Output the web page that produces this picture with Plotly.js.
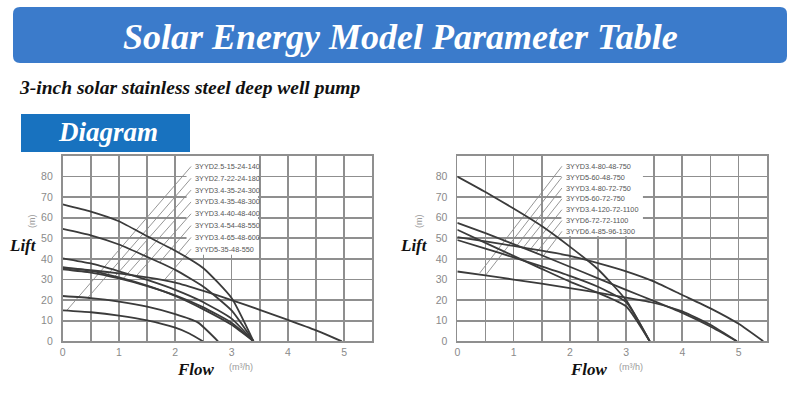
<!DOCTYPE html>
<html>
<head>
<meta charset="utf-8">
<script src="https://cdn.plot.ly/plotly-3.0.1.min.js"></script>
<style>
html,body{margin:0;padding:0;background:#fff;}
#chart{width:800px;height:417px;}
</style>
</head>
<body>
<div id="chart"></div>
<script>
// ---------------- DATA ----------------
const pageTitle = 'Solar Energy Model Parameter Table';
const subTitle = '3-inch solar stainless steel deep well pump';
const sectionTitle = 'Diagram';
const yLabel = 'Lift';
const yUnit = '(m)';
const xLabel = 'Flow';
const xUnit = '(m³/h)';
const xTicks = [0, 1, 2, 3, 4, 5];
const yTicks = [0, 10, 20, 30, 40, 50, 60, 70, 80];

// Left chart: model names and curves (flow m3/h, lift m)
const leftModels = ['3YYD2.5-15-24-140', '3YYD2.7-22-24-180', '3YYD3.4-35-24-300', '3YYD3.4-35-48-300',
                    '3YYD3.4-40-48-400', '3YYD3.4-54-48-550', '3YYD3.4-65-48-600', '3YYD5-35-48-550'];
const l1Flow = [0, 0.5, 1, 1.5, 2, 2.25, 2.49];
const l1Lift = [15, 14.1, 12.5, 10.2, 6.6, 3.8, 0];
const l2Flow = [0, 0.5, 1, 1.5, 2, 2.4, 2.76];
const l2Lift = [22, 21, 19.3, 16.8, 13.2, 9.2, 0];
const l3Flow = [0, 0.5, 1, 1.5, 2, 2.5, 3, 3.39];
const l3Lift = [36, 34.2, 31, 27, 22, 15.5, 8, 0];
const l4Flow = [0, 0.5, 1, 1.5, 2, 2.5, 3, 3.39];
const l4Lift = [35, 33.4, 30.5, 26.8, 22.3, 16.5, 9, 0];
const l5Flow = [0, 0.5, 1, 1.5, 2, 2.5, 3, 3.39];
const l5Lift = [40.3, 37.8, 34, 29.8, 25, 19, 11, 0];
const l6Flow = [0, 0.5, 1, 1.5, 2, 2.5, 3, 3.39];
const l6Lift = [54.6, 51.5, 47, 41, 34.7, 26.5, 15, 0];
const l7Flow = [0, 0.5, 1, 1.5, 2, 2.5, 3, 3.39];
const l7Lift = [66.5, 63, 58.3, 51, 44, 35.5, 21, 0];
const l8Flow = [0, 0.5, 1, 1.5, 2, 2.5, 3, 3.5, 4, 4.5, 4.96];
const l8Lift = [35.5, 34.5, 33, 31, 28.5, 24.5, 20, 15.3, 10.4, 5.3, 0];
// leader line lower ends (left)
const leftLeaderFlow = [0.07, 0.45, 0.92, 1.06, 1.29, 1.72, 2.06, 1.8];
const leftLeaderLift = [14.9, 21.3, 31.3, 30.0, 31.2, 38.3, 43.3, 29.6];

// Right chart
const rightModels = ['3YYD3.4-80-48-750', '3YYD5-60-48-750', '3YYD3.4-80-72-750', '3YYD5-60-72-750',
                     '3YYD3.4-120-72-1100', '3YYD6-72-72-1100', '3YYD6.4-85-96-1300'];
const raFlow = [0, 0.5, 1, 1.5, 2, 2.5, 3, 3.42];
const raLift = [80, 72.5, 64.5, 56, 46, 35, 20, 0];
const rbFlow = [0, 0.5, 1, 1.5, 2, 2.5, 3, 3.5, 4, 4.5, 5, 5.44];
const rbLift = [50.6, 48.5, 46.3, 44, 41.5, 38, 34, 29, 22.5, 16, 8.5, 0];
const rcFlow = [0, 0.5, 1, 1.5, 2, 2.5, 3, 3.5, 4, 4.5, 4.97];
const rcLift = [57.5, 52.5, 47.2, 41.8, 36.2, 30.6, 25, 19.5, 13.8, 7.2, 0];
const rdFlow = [0, 0.5, 1, 1.5, 2, 2.5, 3, 3.42];
const rdLift = [54.2, 47.8, 41.5, 35.2, 29, 23.5, 17, 0];
const reFlow = [0, 0.5, 1, 1.5, 2, 2.5, 3, 3.42];
const reLift = [49.2, 45, 40.8, 36.4, 31.8, 26.5, 19, 0];
const rfFlow = [0, 0.5, 1, 1.5, 2, 2.5, 3, 3.5, 4, 4.5, 4.97];
const rfLift = [33.9, 32, 30, 28, 25.8, 23.6, 21.2, 18.6, 14.5, 8, 0];
const rightLeaderFlow = [0.40, 0.50, 1.06, 1.17, 1.28, 1.40, 1.53];
const rightLeaderLift = [33.2, 32.0, 46.5, 45.4, 44.0, 42.9, 41.5];

// ---------------- LAYOUT HELPERS ----------------
const W = 800, H = 417;
const fx = p => p / W;
const fy = p => 1 - p / H;
const gridCol = '#8f8f8f';
const curveCol = '#3b3b3b';
const leaderCol = '#8a8a8a';

const traces = [];
function leaders(models, endX, endY, startX, topY, step, xa, ya) {
  models.forEach((m, i) => {
    traces.push({x: [startX, endX[i]], y: [topY - i * step, endY[i]], xaxis: xa, yaxis: ya,
      mode: 'lines', line: {color: leaderCol, width: 0.9}, hoverinfo: 'skip', showlegend: false});
  });
}
function curve(q, h, xa, ya) {
  traces.push({x: q, y: h, xaxis: xa, yaxis: ya, mode: 'lines',
    line: {color: curveCol, width: 1.8, shape: 'spline', smoothing: 0.5}, hoverinfo: 'skip', showlegend: false});
}
leaders(leftModels, leftLeaderFlow, leftLeaderLift, 2.28, 84.9, 5.74, 'x', 'y');
leaders(rightModels, rightLeaderFlow, rightLeaderLift, 1.86, 85, 5.27, 'x2', 'y2');
[[l1Flow,l1Lift],[l2Flow,l2Lift],[l3Flow,l3Lift],[l4Flow,l4Lift],[l5Flow,l5Lift],[l6Flow,l6Lift],[l7Flow,l7Lift],[l8Flow,l8Lift]]
  .forEach(c => curve(c[0], c[1], 'x', 'y'));
[[raFlow,raLift],[rbFlow,rbLift],[rcFlow,rcLift],[rdFlow,rdLift],[reFlow,reLift],[rfFlow,rfLift]]
  .forEach(c => curve(c[0], c[1], 'x2', 'y2'));

const halfTicks = [];
for (let v = 0; v <= 5; v += 0.5) halfTicks.push(v);
const halfText = halfTicks.map(v => xTicks.includes(v) ? String(v) : '');

function xax(dom) {
  return {domain: dom, range: [0, 5.5], tickvals: halfTicks, ticktext: halfText, showgrid: true,
    gridcolor: gridCol, gridwidth: 1.8, showline: true, mirror: true, linecolor: gridCol, linewidth: 1.8,
    zeroline: false, ticks: '', tickfont: {family: 'Liberation Sans, Arial', size: 10.5, color: '#8a8a8a'},
    fixedrange: true};
}
function yax(anchor) {
  return {domain: [fy(341.3), fy(156)], range: [0, 90], tickvals: yTicks, showgrid: true, anchor: anchor,
    gridcolor: gridCol, gridwidth: 1.8, showline: true, mirror: true, linecolor: gridCol, linewidth: 1.8,
    zeroline: false, ticks: '', ticklabelstandoff: 6,
    tickfont: {family: 'Liberation Sans, Arial', size: 10.5, color: '#8a8a8a'}, fixedrange: true};
}

const serif = 'Liberation Serif, Times New Roman, serif';
function roundRect(x0, y0, x1, y1, r) {
  const rx = r / W, ry = r / H;
  const X0 = fx(x0), X1 = fx(x1), Y0 = fy(y0), Y1 = fy(y1);
  return `M ${X0 + rx} ${Y0} L ${X1 - rx} ${Y0} Q ${X1} ${Y0} ${X1} ${Y0 - ry} L ${X1} ${Y1 + ry} Q ${X1} ${Y1} ${X1 - rx} ${Y1} ` +
         `L ${X0 + rx} ${Y1} Q ${X0} ${Y1} ${X0} ${Y1 + ry} L ${X0} ${Y0 - ry} Q ${X0} ${Y0} ${X0 + rx} ${Y0} Z`;
}

const shapes = [
  {type: 'path', xref: 'paper', yref: 'paper', path: roundRect(13, 7, 787, 63, 7), fillcolor: '#3b7bcb', line: {width: 0}},
  {type: 'rect', xref: 'paper', yref: 'paper', x0: fx(21), x1: fx(190), y0: fy(152), y1: fy(114), fillcolor: '#1872bf', line: {width: 0}},
  {type: 'rect', xref: 'x', yref: 'y', x0: 2.2, x1: 3.47, y0: 42, y1: 90, fillcolor: '#ffffff', line: {width: 0}, layer: 'between'},
  {type: 'rect', xref: 'x2', yref: 'y2', x0: 1.85, x1: 3.3, y0: 51, y1: 90, fillcolor: '#ffffff', line: {width: 0}, layer: 'between'}
];

const annotations = [
  {xref: 'paper', yref: 'paper', x: fx(400), y: fy(37), text: '<b><i>' + pageTitle + '</i></b>', showarrow: false,
   font: {family: serif, size: 36, color: '#ffffff'}, xanchor: 'center', yanchor: 'middle'},
  {xref: 'paper', yref: 'paper', x: fx(17), y: fy(87), text: '<b><i>' + subTitle + '</i></b>', showarrow: false,
   font: {family: serif, size: 19.5, color: '#111111'}, xanchor: 'left', yanchor: 'middle'},
  {xref: 'paper', yref: 'paper', x: fx(108), y: fy(132), text: '<b><i>' + sectionTitle + '</i></b>', showarrow: false,
   font: {family: serif, size: 27, color: '#ffffff'}, xanchor: 'center', yanchor: 'middle'}
];
[[23, 32], [414, 419]].forEach(p => {
  annotations.push({xref: 'paper', yref: 'paper', x: fx(p[0]), y: fy(245), text: '<b><i>' + yLabel + '</i></b>', showarrow: false,
    font: {family: serif, size: 17, color: '#111111'}, xanchor: 'center', yanchor: 'middle'});
  annotations.push({xref: 'paper', yref: 'paper', x: fx(p[1]), y: fy(221), text: yUnit, showarrow: false, textangle: -90,
    font: {family: 'Liberation Sans, Arial', size: 9, color: '#9a9a9a'}, xanchor: 'center', yanchor: 'middle'});
});
[[196, 241], [589, 631]].forEach(p => {
  annotations.push({xref: 'paper', yref: 'paper', x: fx(p[0]), y: fy(369), text: '<b><i>' + xLabel + '</i></b>', showarrow: false,
    font: {family: serif, size: 17, color: '#111111'}, xanchor: 'center', yanchor: 'middle'});
  annotations.push({xref: 'paper', yref: 'paper', x: fx(p[1]), y: fy(367), text: xUnit, showarrow: false,
    font: {family: 'Liberation Sans, Arial', size: 9, color: '#9a9a9a'}, xanchor: 'center', yanchor: 'middle'});
});
leftModels.forEach((m, i) => annotations.push({xref: 'x', yref: 'y', x: 2.32, y: 84.9 - i * 5.74, text: m, showarrow: false,
  xanchor: 'left', yanchor: 'middle', font: {family: 'Liberation Sans, Arial', size: 7.3, color: '#555555'}}));
rightModels.forEach((m, i) => annotations.push({xref: 'x2', yref: 'y2', x: 1.9, y: 85 - i * 5.27, text: m, showarrow: false,
  xanchor: 'left', yanchor: 'middle', font: {family: 'Liberation Sans, Arial', size: 7.3, color: '#555555'}}));

const layout = {
  width: W, height: H, margin: {l: 0, r: 0, t: 0, b: 0}, paper_bgcolor: '#ffffff', plot_bgcolor: '#ffffff',
  showlegend: false,
  xaxis: Object.assign(xax([fx(62.7), fx(372.3)]), {anchor: 'y'}),
  yaxis: yax('x'),
  xaxis2: Object.assign(xax([fx(457.3), fx(766.7)]), {anchor: 'y2'}),
  yaxis2: yax('x2'),
  shapes: shapes, annotations: annotations
};
Plotly.newPlot('chart', traces, layout, {displayModeBar: false, staticPlot: true});
</script>
</body>
</html>
